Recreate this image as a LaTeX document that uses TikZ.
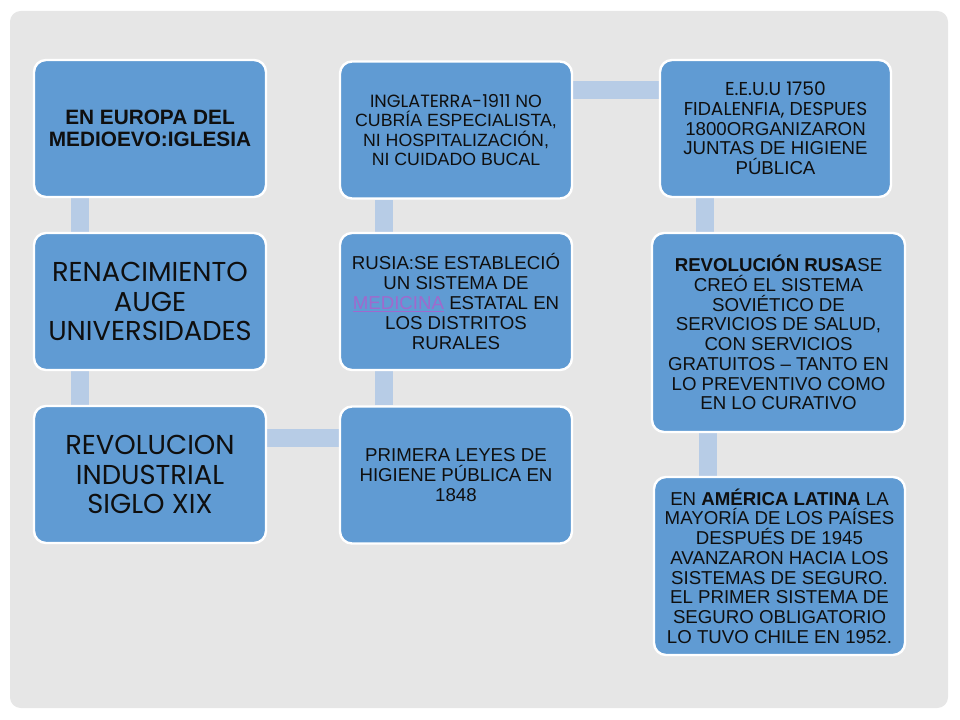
\documentclass[tikz,border=0pt]{standalone}
\usepackage{fontspec}
\setmainfont{Liberation Sans}
\newfontfamily\gothic{Poppins}
\usetikzlibrary{backgrounds}
\definecolor{panelgray}{RGB}{230,230,230}
\definecolor{boxblue}{RGB}{96,155,211}
\definecolor{barblue}{RGB}{183,204,230}
\definecolor{inktext}{RGB}{15,15,15}
\definecolor{linkpurple}{RGB}{160,105,205}
\newcommand{\smalltxt}{\fontsize{14}{14.8}\selectfont}
\newcommand{\bigtxt}{\gothic\fontsize{20.5}{22}\selectfont}
\newcommand{\linktxt}[1]{\textcolor{linkpurple}{\underline{#1}}}
\tikzset{
  box/.style={draw=white, line width=1.8pt, fill=boxblue, rounded corners=9pt,
    align=center, inner sep=2pt, text=inktext, minimum width=174pt, minimum height=102.75pt,
    font=\smalltxt},
  bar/.style={draw=barblue, line width=13.5pt}
}
\begin{document}
\begin{tikzpicture}[x=0.75pt,y=0.75pt,yscale=-1,xscale=1]
\useasboundingbox (0,0) rectangle (960,720);

% Text Node
\node [box, font=\fontsize{15.6}{17}\selectfont\bfseries] (europa) at (150,128.5) {EN EUROPA DEL\\MEDIOEVO:IGLESIA};
% Text Node
\node [box, font=\bigtxt] (renac) at (150,301.5) {RENACIMIENTO\\AUGE\\UNIVERSIDADES};
% Text Node
\node [box, font=\bigtxt] (revind) at (150,474.5) {REVOLUCION\\INDUSTRIAL\\SIGLO XIX};
% Text Node
\node [box, font=\fontsize{13.3}{14.4}\selectfont] (inglat) at (456,130) {{\gothic INGLATERRA-1911} NO\\CUBRÍA ESPECIALISTA,\\NI HOSPITALIZACIÓN,\\NI CUIDADO BUCAL};
% Text Node
\node [box, font=\fontsize{14}{15}\selectfont] (rusia) at (456,301.5) {RUSIA:SE ESTABLECIÓ\\UN SISTEMA DE\\\linktxt{MEDICINA} ESTATAL EN\\LOS DISTRITOS\\RURALES};
% Text Node
\node [box, font=\fontsize{14}{15}\selectfont] (leyes) at (456,475) {PRIMERA LEYES DE\\HIGIENE PÚBLICA EN\\1848};
% Text Node
\node [box, minimum width=173.25pt] (eeuu) at (775.5,128.5) {{\gothic E.E.U.U 1750}\\{\gothic FIDALENFIA, DESPUES}\\1800ORGANIZARON\\JUNTAS DE HIGIENE\\PÚBLICA};
% Text Node
\node [box, minimum width=189.75pt, minimum height=149.25pt] (revrusa) at (778.5,332.5) {\textbf{REVOLUCIÓN RUSA}SE\\CREÓ EL SISTEMA\\SOVIÉTICO DE\\SERVICIOS DE SALUD,\\CON SERVICIOS\\GRATUITOS – TANTO EN\\LO PREVENTIVO COMO\\EN LO CURATIVO};
% Text Node
\node [box, minimum width=188.25pt, minimum height=133.5pt] (latina) at (779.5,566) {EN \textbf{AMÉRICA LATINA} LA\\MAYORÍA DE LOS PAÍSES\\DESPUÉS DE 1945\\AVANZARON HACIA LOS\\SISTEMAS DE SEGURO.\\EL PRIMER SISTEMA DE\\SEGURO OBLIGATORIO\\LO TUVO CHILE EN 1952.};

\begin{pgfonlayer}{background}
%Shape: Panel
\fill [panelgray, rounded corners=8pt] (10,11) rectangle (948,708);
%Straight Lines
\draw [bar] ([xshift=35.25pt]europa.south west) -- ([xshift=35.25pt]europa.south west |- renac.north);
\draw [bar] ([xshift=35.25pt]renac.south west) -- ([xshift=35.25pt]renac.south west |- revind.north);
\draw [bar] ([yshift=24.75pt]revind.north east) -- ([yshift=24.75pt]revind.north east -| leyes.west);
\draw [bar] ([xshift=33.75pt]leyes.north west) -- ([xshift=33.75pt]leyes.north west |- rusia.south);
\draw [bar] ([xshift=33.75pt]rusia.north west) -- ([xshift=33.75pt]rusia.north west |- inglat.south);
\draw [bar] ([yshift=22.5pt]inglat.north east) -- ([yshift=22.5pt]inglat.north east -| eeuu.west);
\draw [bar] ([xshift=34.5pt]eeuu.south west) -- ([xshift=34.5pt]eeuu.south west |- revrusa.north);
\draw [bar] ([xshift=43pt]revrusa.south west) -- ([xshift=43pt]revrusa.south west |- latina.north);
\end{pgfonlayer}
\end{tikzpicture}
\end{document}
